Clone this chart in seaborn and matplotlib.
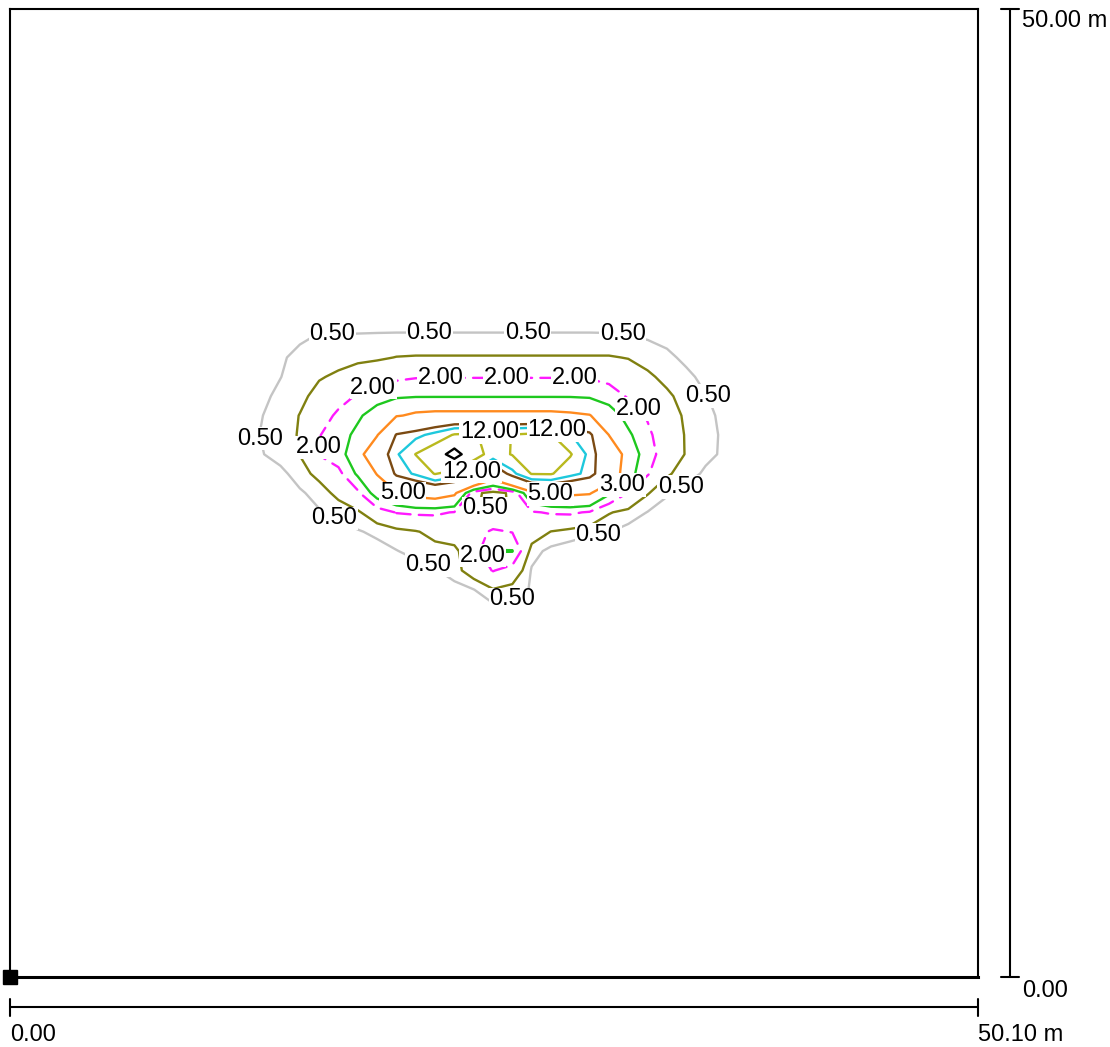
import numpy as np
import matplotlib
matplotlib.use("Agg")
import matplotlib.pyplot as plt
from matplotlib.lines import Line2D
import seaborn as sns

# ─────────────────────────────────────────────
# DATA: room size and illuminance grid (lux)
# ─────────────────────────────────────────────
room_width_m = 50.10
room_depth_m = 50.00

grid_x_m = [12, 13, 14, 15, 16, 17, 18, 19, 20, 21, 22, 23, 24, 25,
            26, 27, 28, 29, 30, 31, 32, 33, 34, 35, 36, 37, 38]
grid_y_m = [18, 19, 20, 21, 22, 23, 24, 25, 26, 27, 28, 29, 30, 31,
            32, 33, 34, 35]

# one row per grid_y_m value, columns follow grid_x_m
lux_y35 = [0.05, 0.08, 0.1, 0.12, 0.14, 0.16, 0.18, 0.2, 0.2, 0.2, 0.2, 0.2, 0.2, 0.2,
           0.2, 0.2, 0.2, 0.2, 0.2, 0.2, 0.18, 0.16, 0.14, 0.12, 0.1, 0.08, 0.05]
lux_y34 = [0.1, 0.15, 0.2, 0.25, 0.3, 0.34, 0.37, 0.39, 0.4, 0.4, 0.4, 0.4, 0.4, 0.4,
           0.4, 0.4, 0.4, 0.4, 0.4, 0.39, 0.36, 0.33, 0.3, 0.25, 0.2, 0.15, 0.1]
lux_y33 = [0.15, 0.25, 0.35, 0.45, 0.54, 0.54, 0.54, 0.54, 0.54, 0.54, 0.54, 0.54, 0.54, 0.54,
           0.54, 0.54, 0.54, 0.54, 0.54, 0.54, 0.53, 0.47, 0.38, 0.28, 0.2, 0.14, 0.1]
lux_y32 = [0.2, 0.32, 0.45, 0.6, 0.7, 0.8, 0.87, 0.9, 1.02, 1.05, 1.05, 1.05, 1.05, 1.05,
           1.05, 1.05, 1.05, 1.05, 1.05, 1.05, 0.97, 0.8, 0.6, 0.4, 0.28, 0.18, 0.12]
lux_y31 = [0.22, 0.35, 0.49, 0.7, 0.95, 1.1, 1.3, 1.55, 1.8, 1.93, 1.95, 1.95, 1.95, 1.95,
           1.95, 1.95, 1.95, 1.95, 1.9, 1.7, 1.4, 1.1, 0.85, 0.6, 0.38, 0.25, 0.15]
lux_y30 = [0.25, 0.4, 0.6, 0.85, 1.2, 1.6, 2.1, 2.5, 2.8, 2.9, 2.9, 2.9, 2.9, 2.9,
           2.9, 2.9, 2.9, 2.9, 2.8, 2.5, 1.9, 1.5, 1.1, 0.8, 0.52, 0.35, 0.2]
lux_y29 = [0.3, 0.48, 0.7, 1.02, 1.5, 2.2, 2.8, 3.6, 4.8, 5.4, 5.6, 5.6, 5.6, 5.6,
           5.6, 5.6, 5.6, 5.4, 5.1, 3.6, 2.6, 1.9, 1.3, 0.9, 0.6, 0.4, 0.25]
lux_y28 = [0.35, 0.52, 0.75, 1.05, 1.95, 2.5, 3.3, 4.8, 10.2, 11.2, 12.9, 15.3, 15.7, 12.6,
           15.2, 15.7, 15.2, 12.1, 10.7, 4.95, 3.2, 2.2, 1.4, 0.95, 0.65, 0.42, 0.28]
lux_y27 = [0.3, 0.46, 0.72, 1.02, 2.05, 2.6, 3.7, 8.0, 11.6, 15.1, 17.5, 22.0, 16.7, 13.5,
           15.2, 16.7, 16.7, 15.3, 11.2, 7.5, 3.8, 2.4, 1.5, 0.95, 0.62, 0.42, 0.28]
lux_y26 = [0.22, 0.3, 0.35, 0.75, 1.2, 1.7, 3.2, 5.1, 10.6, 12.4, 15.2, 13.5, 11.2, 7.0,
           11.2, 15.2, 15.3, 12.9, 11.2, 7.0, 3.5, 2.1, 1.1, 0.7, 0.42, 0.28, 0.18]
lux_y25 = [0.12, 0.18, 0.28, 0.42, 0.7, 1.2, 1.8, 3.6, 4.7, 5.8, 6.2, 5.4, 1.3, 0.6,
           1.2, 4.3, 5.2, 5.4, 5.2, 3.2, 1.95, 1.05, 0.55, 0.32, 0.2, 0.12, 0.08]
lux_y24 = [0.08, 0.12, 0.18, 0.28, 0.45, 0.65, 0.9, 1.5, 2.05, 2.15, 2.15, 1.95, 1.1, 0.7,
           1.1, 1.9, 2.1, 2.15, 1.9, 1.05, 0.8, 0.48, 0.3, 0.2, 0.12, 0.08, 0.05]
lux_y23 = [0.05, 0.07, 0.1, 0.14, 0.2, 0.3, 0.45, 0.62, 0.8, 0.95, 1.2, 1.35, 1.5, 2.2,
           1.95, 1.5, 0.98, 0.8, 0.6, 0.52, 0.3, 0.2, 0.12, 0.08, 0.05, 0.03, 0.02]
lux_y22 = [0.02, 0.04, 0.06, 0.09, 0.13, 0.18, 0.24, 0.3, 0.48, 0.65, 0.8, 0.85, 1.5, 3.05,
           3.05, 0.7, 0.35, 0.2, 0.15, 0.12, 0.08, 0.05, 0.03, 0.02, 0.01, 0.01, 0.01]
lux_y21 = [0.01, 0.02, 0.03, 0.05, 0.07, 0.1, 0.13, 0.17, 0.22, 0.3, 0.45, 0.75, 1.4, 2.05,
           1.6, 0.45, 0.2, 0.12, 0.08, 0.05, 0.04, 0.03, 0.02, 0.01, 0.01, 0.01, 0.01]
lux_y20 = [0.01, 0.01, 0.02, 0.03, 0.04, 0.06, 0.08, 0.1, 0.13, 0.16, 0.2, 0.3, 0.48, 0.95,
           0.75, 0.45, 0.15, 0.08, 0.05, 0.04, 0.03, 0.02, 0.01, 0.01, 0.01, 0.01, 0.01]
lux_y19 = [0.0, 0.0, 0.01, 0.01, 0.02, 0.03, 0.04, 0.05, 0.06, 0.08, 0.1, 0.12, 0.2, 0.3,
           0.25, 0.15, 0.08, 0.05, 0.03, 0.02, 0.01, 0.01, 0.01, 0.0, 0.0, 0.0, 0.0]
lux_y18 = [0.0, 0.0, 0.0, 0.0, 0.0, 0.01, 0.01, 0.02, 0.02, 0.03, 0.04, 0.05, 0.08, 0.12,
           0.1, 0.06, 0.03, 0.02, 0.01, 0.01, 0.0, 0.0, 0.0, 0.0, 0.0, 0.0, 0.0]

iso_levels = [0.5, 1.0, 2.0, 3.0, 5.0, 10.0, 12.0, 15.0, 20.0]
iso_colors = ['#c4c4c4', '#808010', '#ff1aff', '#1ec81e', '#ff8a1e',
              '#7b4a12', '#1ec8dc', '#b9b91e', '#000000']

# ─────────────────────────────────────────────
# SETUP
# ─────────────────────────────────────────────
sns.set_theme(style="white")
plt.rcParams['font.family'] = ['Liberation Sans', 'DejaVu Sans']

lux_grid = np.array([lux_y18, lux_y19, lux_y20, lux_y21, lux_y22, lux_y23,
                     lux_y24, lux_y25, lux_y26, lux_y27, lux_y28, lux_y29,
                     lux_y30, lux_y31, lux_y32, lux_y33, lux_y34, lux_y35])
assert lux_grid.shape == (len(grid_y_m), len(grid_x_m))

W, H = 1110, 1047
fig = plt.figure(figsize=(W / 100, H / 100), dpi=100)
fig.patch.set_facecolor('white')
ax = fig.add_axes([10 / W, 1 - 977 / H, 968 / W, 968 / H])
ax.set_xlim(0, room_width_m)
ax.set_ylim(0, room_depth_m)

# ─────────────────────────────────────────────
# ISOLINES
# ─────────────────────────────────────────────
line_styles = ['solid'] * len(iso_levels)
line_styles[iso_levels.index(2.0)] = (0, (6, 3.5))
cs = ax.contour(grid_x_m, grid_y_m, lux_grid, levels=iso_levels,
                colors=iso_colors, linewidths=1.7, linestyles=line_styles)
cs.set_joinstyle('round')
cs.set_capstyle('round')

# rough spots where the labels sit; each one is snapped onto its own isoline
label_spots = {
    0.5: [(16.7, 32.8), (21.7, 33.1), (26.8, 33.1), (31.7, 33.1), (36.4, 30.2),
          (13.2, 27.9), (16.8, 23.7), (21.7, 21.4), (26.2, 19.1), (30.5, 22.6),
          (34.8, 25.2)],
    2.0: [(18.9, 30.2), (22.3, 30.8), (25.7, 30.9), (29.2, 30.7), (32.6, 29.4),
          (16.6, 27.3), (24.7, 21.9)],
    3.0: [(31.6, 25.5)],
    5.0: [(20.3, 24.9), (27.9, 24.7)],
    12.0: [(24.9, 28.4), (28.2, 27.9), (23.8, 26.3)],
}
label_size = 17
label_box = dict(facecolor='white', edgecolor='none', pad=0.5)
for lvl, spots in label_spots.items():
    idx = iso_levels.index(lvl)
    for sx, sy in spots:
        res = cs.find_nearest_contour(sx, sy, indices=[idx], pixel=False)
        lx, ly = res[3], res[4]
        ax.text(lx, ly, f'{lvl:.2f}', ha='center', va='center', fontsize=label_size,
                color='black', bbox=label_box, zorder=4)

ax.text(24.6, 24.2, '0.50', ha='center', va='center', fontsize=label_size,
        color='black', bbox=label_box, zorder=4)

ax.set_xticks([])
ax.set_yticks([])
ax.set_facecolor('white')
for side, spine in ax.spines.items():
    spine.set_color('black')
    spine.set_linewidth(2.2 if side == 'bottom' else 1.5)

ax.plot([0], [0], marker='s', ms=10, color='black', clip_on=False, zorder=6)

# ─────────────────────────────────────────────
# DIMENSION LINES
# ─────────────────────────────────────────────
def fig_line(px, py):
    fig.add_artist(Line2D([p / W for p in px], [1 - p / H for p in py],
                          transform=fig.transFigure, color='black', lw=1.5))

fig_line([10, 978], [1007, 1007])
fig_line([10, 10], [999, 1016])
fig_line([978, 978], [999, 1016])
fig_line([1010, 1010], [9, 977])
fig_line([1001, 1019], [9, 9])
fig_line([1001, 1019], [977, 977])

dim_font = dict(fontsize=17, color='black', ha='left', va='center')
fig.text(1022 / W, 1 - 21 / H, f'{room_depth_m:.2f} m', **dim_font)
fig.text(1022 / W, 1 - 991 / H, '0.00', **dim_font)
fig.text(10 / W, 1 - 1035 / H, '0.00', **dim_font)
fig.text(978 / W, 1 - 1035 / H, f'{room_width_m:.2f} m', **dim_font)

fig.savefig('out.png', dpi=100, facecolor='white')
